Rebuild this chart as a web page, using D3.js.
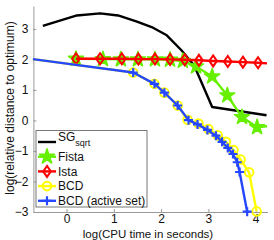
<!DOCTYPE html>
<html>
<head>
  <meta charset="utf-8">
  <script src="https://d3js.org/d3.v7.min.js"></script>
  <style>
    body { margin: 0; background: #fff; }
    text { font-family: "Liberation Sans", Arial, sans-serif; fill: #111; }
  </style>
</head>
<body>
  <div id="chart"></div>
  <script>
    // values (log10 scale)
    var sgX = [-0.50, 0.22, 0.71, 1.09, 1.49, 1.80, 2.12, 2.43, 2.70, 3.08, 4.23];
    var sgY = [3.10, 3.44, 3.51, 3.44, 3.24, 3.06, 2.79, 2.30, 1.80, 0.44, 0.17];

    var fistaX = [0.20, 0.77, 1.15, 1.51, 1.87, 2.19, 2.46, 2.74, 3.08, 3.40, 3.71, 4.03, 4.24];
    var fistaY = [2.02, 2.01, 2.00, 2.00, 2.00, 1.99, 1.95, 1.77, 1.44, 0.82, 0.11, -0.22, -0.19];

    var istaX = [0.20, 0.71, 1.17, 1.52, 1.87, 2.19, 2.50, 2.80, 3.10, 3.41, 3.73, 4.05, 4.24];
    var istaY = [2.02, 2.02, 2.02, 2.01, 2.01, 2.00, 1.99, 1.97, 1.95, 1.93, 1.91, 1.89, 1.87];

    var bcdX = [-0.71, 1.41, 1.86, 2.07, 2.35, 2.56, 2.79, 3.00, 3.20, 3.37, 3.53, 3.68, 3.86, 4.02];
    var bcdY = [2.01, 1.57, 1.20, 0.91, 0.49, 0.02, -0.10, -0.28, -0.49, -0.70, -0.97, -1.28, -1.70, -2.98];

    var bcdAsX = [-0.71, 1.41, 1.86, 2.07, 2.35, 2.58, 2.77, 2.98, 3.16, 3.29, 3.41, 3.52, 3.61, 3.66, 3.82];
    var bcdAsY = [2.01, 1.57, 1.20, 0.91, 0.49, 0.01, -0.13, -0.31, -0.50, -0.70, -0.90, -1.10, -1.37, -1.69, -2.99];

    var xTicks = [0, 1, 2, 3, 4];
    var yTicks = [-3, -2, -1, 0, 1, 2, 3];

    var width = 274, height = 240;
    var x = d3.scaleLinear().domain([-0.7, 4.25]).range([33.4, 267.5]);
    var y = d3.scaleLinear().domain([-3, 3.75]).range([212, 6]);

    var svg = d3.select("#chart").append("svg")
      .attr("width", width)
      .attr("height", height);

    // axes (left + bottom only, ticks pointing in)
    svg.append("g")
      .attr("transform", "translate(0," + y(-3) + ")")
      .call(d3.axisBottom(x).tickValues(xTicks).tickSizeInner(-3).tickSizeOuter(0).tickPadding(2).tickFormat(d3.format("d")));
    svg.append("g")
      .attr("transform", "translate(" + x(-0.7) + ",0)")
      .call(d3.axisLeft(y).tickValues(yTicks).tickSizeInner(-3).tickSizeOuter(0).tickPadding(5).tickFormat(d3.format("d")));
    svg.selectAll(".domain").attr("stroke", "#999");
    svg.selectAll(".tick line").attr("stroke", "#999");
    svg.selectAll(".tick text").style("font-size", "12px").attr("fill", "#111");

    svg.append("text")
      .attr("x", 148).attr("y", 237.5)
      .attr("text-anchor", "middle")
      .style("font-size", "11.5px")
      .text("log(CPU time in seconds)");
    svg.append("text")
      .attr("transform", "translate(14,108) rotate(-90)")
      .attr("text-anchor", "middle")
      .style("font-size", "12px")
      .text("log(relative distance to optimum)");

    // series table built from the arrays above
    var series = [
      { name: "SG", xs: sgX, ys: sgY, color: "#000000", marker: null, skip: [] },
      { name: "Fista", xs: fistaX, ys: fistaY, color: "#66f000", marker: "star", skip: [fistaX.length - 1] },
      { name: "Ista", xs: istaX, ys: istaY, color: "#ff0000", marker: "diamond", skip: [istaX.length - 1] },
      { name: "BCD", xs: bcdX, ys: bcdY, color: "#ffff00", marker: "circle", skip: [0] },
      { name: "BCD (active set)", xs: bcdAsX, ys: bcdAsY, color: "#2447ff", marker: "plus", skip: [0] }
    ];

    var line = d3.line().x(function(d) { return x(d[0]); }).y(function(d) { return y(d[1]); });

    function drawMarker(g, type, color, cx, cy) {
      if (type == "star") {
        g.append("path")
          .attr("d", d3.symbol().type(d3.symbolStar).size(70)())
          .attr("transform", "translate(" + cx + "," + cy + ")")
          .attr("fill", color).attr("stroke", color).attr("stroke-width", 1.5)
          .attr("stroke-linejoin", "round");
      } else if (type == "diamond") {
        g.append("path")
          .attr("d", "M0,-5.5L3.8,0L0,5.5L-3.8,0Z")
          .attr("transform", "translate(" + cx + "," + cy + ")")
          .attr("fill", "none").attr("stroke", color).attr("stroke-width", 2);
      } else if (type == "circle") {
        g.append("circle")
          .attr("cx", cx).attr("cy", cy).attr("r", 4.3)
          .attr("fill", "none").attr("stroke", color).attr("stroke-width", 2);
      } else if (type == "plus") {
        g.append("path")
          .attr("d", "M-4.5,0H4.5M0,-4.5V4.5")
          .attr("transform", "translate(" + cx + "," + cy + ")")
          .attr("fill", "none").attr("stroke", color).attr("stroke-width", 2.2);
      }
    }

    series.forEach(function(s) {
      var pts = s.xs.map(function(v, i) { return [v, s.ys[i]]; });
      var g = svg.append("g");
      g.append("path")
        .datum(pts)
        .attr("d", line)
        .attr("fill", "none")
        .attr("stroke", s.color)
        .attr("stroke-width", 2.4)
        .attr("stroke-linejoin", "round");
      if (s.marker) {
        pts.forEach(function(p, i) {
          if (s.skip.indexOf(i) >= 0) return;
          drawMarker(g, s.marker, s.color, x(p[0]), y(p[1]));
        });
      }
    });

    // legend
    var leg = svg.append("g");
    leg.append("rect")
      .attr("x", 36).attr("y", 130.5).attr("width", 111).attr("height", 76.5)
      .attr("fill", "#fff").attr("stroke", "#777").attr("stroke-width", 1);
    series.forEach(function(s, i) {
      var ly = 142 + i * 14.7;
      leg.append("line")
        .attr("x1", 38).attr("x2", 56).attr("y1", ly).attr("y2", ly)
        .attr("stroke", s.color).attr("stroke-width", 2.4);
      if (s.marker) drawMarker(leg, s.marker, s.color, 47, ly);
      var t = leg.append("text")
        .attr("x", 58).attr("y", i == 0 ? ly - 1 : ly + 4.3)
        .style("font-size", "12px");
      t.append("tspan").text(s.name);
      if (i == 0) {
        t.append("tspan").attr("dy", 5).style("font-size", "9px").text("sqrt");
      }
    });
  </script>
</body>
</html>
